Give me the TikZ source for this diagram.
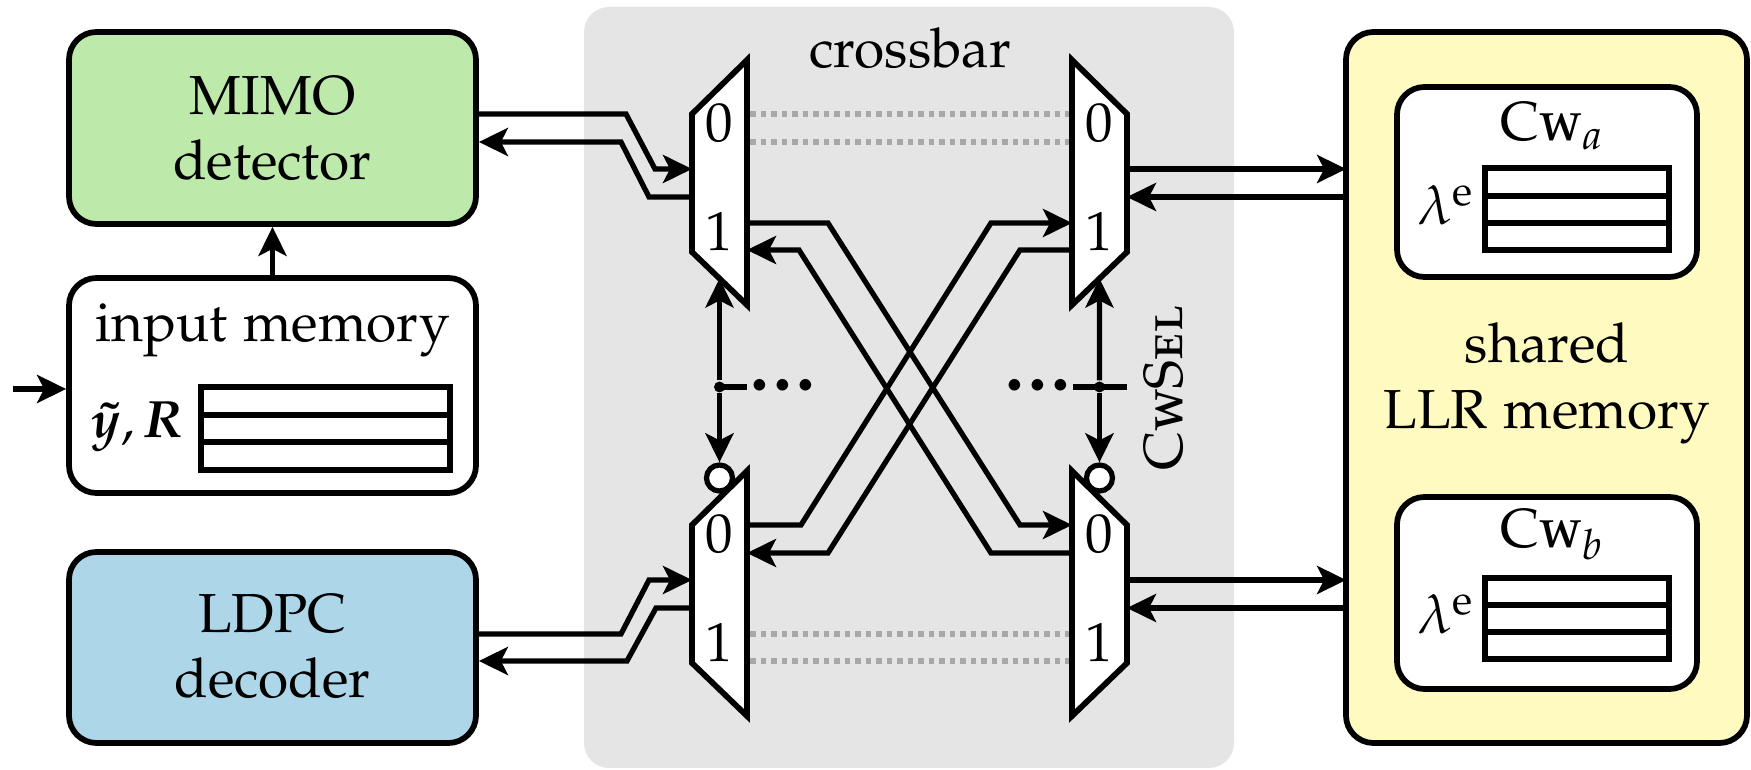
\documentclass[tikz,border=0pt]{standalone}
\usepackage[T1]{fontenc}
\usepackage[sc]{mathpazo}
\usepackage{amsmath}
\usepackage{bm}
\usetikzlibrary{arrows.meta,fit}

\definecolor{mimogreen}{RGB}{189,234,171}
\definecolor{ldpcblue}{RGB}{173,215,232}
\definecolor{llryellow}{RGB}{255,250,192}
\definecolor{xbargray}{RGB}{229,229,229}
\definecolor{idlegray}{RGB}{168,168,168}

\newcommand{\tridots}{\textperiodcentered\kern0.9pt\textperiodcentered\kern0.9pt\textperiodcentered}

\tikzset{
  blk/.style={draw, line width=1.15pt, rounded corners=5.5pt, inner sep=0pt},
  sig/.style={line width=1.05pt, line join=miter},
  arr/.style={sig, -{Stealth[length=5.8pt,width=5.6pt,inset=1.4pt]}},
  idle/.style={draw=idlegray, line width=1.1pt, dash pattern=on 1.1pt off 1pt},
  muxbody/.style={draw, fill=white, line width=1.15pt, line join=miter},
  lbl/.style={inner sep=0pt, anchor=base, font=\fontsize{11}{13}\selectfont},
  ellip/.style={lbl, font=\fontsize{15}{17}\selectfont\bfseries},
  memtab/.style={draw, line width=1.15pt, inner sep=0pt},
  junction/.style={circle, fill, inner sep=0pt, minimum size=2.2pt},
  bubble/.style={circle, draw, fill=white, line width=1.05pt, inner sep=0pt, minimum size=5.2pt},
  muxshape/.pic={
    \draw[muxbody] (0,-69) -- (55,-123) -- (55,122) -- (0,69) -- cycle;
    \coordinate (-a) at (0,-14);
    \coordinate (-b) at (0,14);
    \coordinate (-r1) at (55,-69);
    \coordinate (-r2) at (55,-41);
    \coordinate (-r3) at (55,40);
    \coordinate (-r4) at (55,67);
    \coordinate (-sel) at (27.5,95.5);
    \node[lbl] (-zero) at (27.5,-41) {0};
    \node[lbl] (-one) at (27.5,68) {1};
  }
}

\begin{document}
\begin{tikzpicture}[x=0.2pt,y=-0.2pt]
\useasboundingbox (0,0) rectangle (1751,770);

% crossbar backdrop
\node[fit={(584,7) (1234,768)}, inner sep=0pt, fill=xbargray, rounded corners=5pt] (xbar) {};
\node[lbl] (xbartitle) at (910,68) {crossbar};

% processing blocks
\node[blk, fill=mimogreen, fit={(69,32) (476,224)}] (mimo) {};
\node[lbl] (mimoA) at (272.5,115) {MIMO};
\node[lbl] (mimoB) at (272.5,180) {detector};

\node[blk, fill=white, fit={(69,278) (476,493)}] (inmem) {};
\node[lbl] (inmemT) at (272.5,342) {input memory};
\node[memtab, fit={(201,387) (450,470)}] (intab) {};
\draw[line width=1.15pt] (201,415) -- (450,415) (201,442) -- (450,442);
\node[lbl, font=\fontsize{10.5}{12}\selectfont] (inmemV) at (137,438) {$\bm{\tilde{y}}, \bm{R}$};

\node[blk, fill=ldpcblue, fit={(69,552) (476,743)}] (ldpc) {};
\node[lbl] (ldpcA) at (272.5,633) {LDPC};
\node[lbl] (ldpcB) at (272.5,698) {decoder};

% shared LLR memory with two codeword buffers
\node[blk, fill=llryellow, fit={(1346,32) (1747,743)}] (llr) {};
\node[lbl] (llrA) at (1547,363) {shared};
\node[lbl] (llrB) at (1547,429) {LLR memory};

\node[blk, fill=white, fit={(1397,87) (1697,277)}] (cwa) {};
\node[lbl] (cwaT) at (1553,141) {\textsc{Cw}$_a$};
\node[memtab, fit={(1485,168) (1669,250)}] (cwatab) {};
\draw[line width=1.15pt] (1485,196) -- (1669,196) (1485,223) -- (1669,223);
\node[lbl] (cwaL) at (1446,225) {$\lambda^{\mathrm{e}}$};

\node[blk, fill=white, fit={(1397,497) (1697,689)}] (cwb) {};
\node[lbl] (cwbT) at (1553,548) {\textsc{Cw}$_b$};
\node[memtab, fit={(1485,578) (1669,659)}] (cwbtab) {};
\draw[line width=1.15pt] (1485,605) -- (1669,605) (1485,632) -- (1669,632);
\node[lbl] (cwbL) at (1446,634) {$\lambda^{\mathrm{e}}$};

% multiplexers
\pic (m1) at (692,183) {muxshape};
\pic[xscale=-1] (m2) at (1127,183) {muxshape};
\pic (m3) at (692,594) {muxshape};
\pic[xscale=-1] (m4) at (1127,594) {muxshape};

% unused paths between the muxes
\draw[idle, shorten <=0.6pt, shorten >=0.6pt] (m1-r1) -- (m2-r1);
\draw[idle, shorten <=0.6pt, shorten >=0.6pt] (m1-r2) -- (m2-r2);
\draw[idle, shorten <=0.6pt, shorten >=0.6pt] (m3-r3) -- (m4-r3);
\draw[idle, shorten <=0.6pt, shorten >=0.6pt] (m3-r4) -- (m4-r4);

% select logic
\node[bubble] (b3) at (719.5,478) {};
\node[bubble] (b4) at (1099.5,478) {};
\node[junction] (j1) at (719.5,387) {};
\node[junction] (j2) at (1099.5,387) {};
\coordinate (s1) at (747,387);
\coordinate (s2a) at (1073,387);
\coordinate (s2b) at (1127,387);
\draw[arr] (j1) -- (m1-sel);
\draw[arr] (j1) -- (b3);
\draw[arr] (j2) -- (m2-sel);
\draw[arr] (j2) -- (b4);
\draw[sig] (j1.center) -- (s1);
\draw[sig] (s2a) -- (s2b);
\node[ellip] (dotsL) at (783,405) {\tridots};
\node[ellip] (dotsR) at (1038,405) {\tridots};
\node[lbl, rotate=90] (cwsel) at (1182,388) {\textsc{CwSel}};

% input stream
\coordinate (src) at (13,389);
\draw[arr] (src) -- (inmem.west |- src);
\draw[arr] (inmem.north) -- (mimo.south);

% MIMO detector <-> crossbar
\draw[arr] (mimo.east |- m1-r1) -- (626,114) -- (655,169) -- (m1-a);
\draw[arr] (m1-b) -- (649,197) -- (621,142) -- (mimo.east |- m1-r2);

% LDPC decoder <-> crossbar
\draw[arr] (ldpc.east |- m3-r3) -- (621,634) -- (649,580) -- (m3-a);
\draw[arr] (m3-b) -- (656,608) -- (627,661) -- (ldpc.east |- m3-r4);

% crossing connections
\draw[arr] (m1-r3) -- (828,223) -- (1020,525) -- (m4-r1);
\draw[arr] (m4-r2) -- (991,553) -- (799,250) -- (m1-r4);
\draw[arr] (m3-r1) -- (801,525) -- (991,223) -- (m2-r3);
\draw[arr] (m2-r4) -- (1020,250) -- (828,553) -- (m3-r2);

% crossbar <-> LLR memory
\draw[arr, shorten >=-0.6pt] (m2-a) -- (llr.west |- m2-a);
\draw[arr] (llr.west |- m2-b) -- (m2-b);
\draw[arr, shorten >=-0.6pt] (m4-a) -- (llr.west |- m4-a);
\draw[arr] (llr.west |- m4-b) -- (m4-b);
\end{tikzpicture}
\end{document}
